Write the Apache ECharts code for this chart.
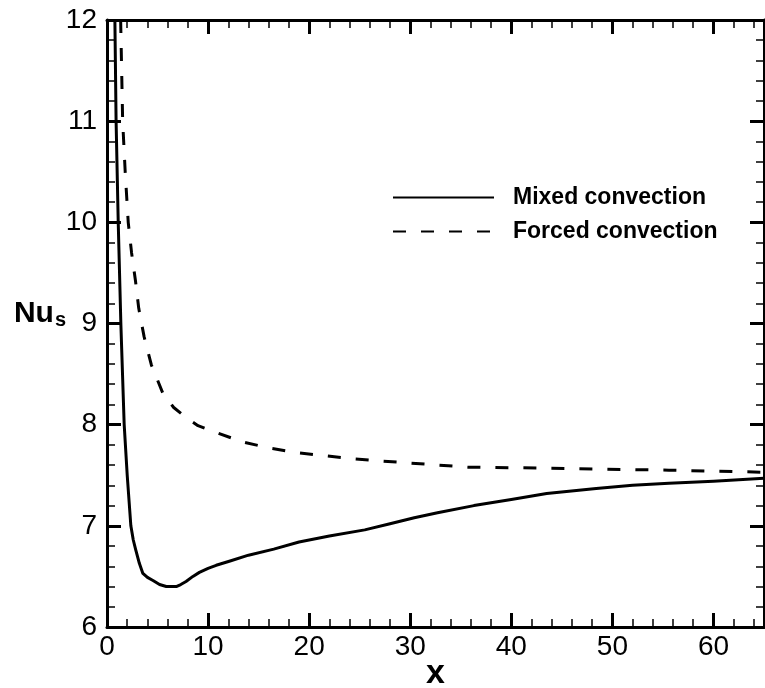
<!DOCTYPE html>
<html>
<head>
<meta charset="utf-8">
<script src="https://cdn.jsdelivr.net/npm/echarts@6/dist/echarts.min.js"></script>
<style>
  html, body { margin: 0; padding: 0; background: #fff; }
  #chart { width: 765px; height: 688px; }
</style>
</head>
<body>
<div id="chart"></div>
<script>
// Surface Nusselt number along the channel: mixed vs forced convection
const mixedX = [0.78, 0.9, 1.11, 1.37, 1.7, 2.0, 2.36, 2.6, 2.85, 3.2, 3.55, 4.0, 4.55, 5.2, 5.86, 6.85,
                7.3, 7.82, 8.5, 9.14, 10.0, 10.8, 12.1, 14.0, 16.5, 19.0, 22.0, 25.5, 28.0, 30.4, 32.7,
                36.3, 40.0, 43.5, 48.4, 52.0, 55.6, 60.0, 65.0];
const mixedY = [12.0, 11.0, 10.0, 9.0, 8.0, 7.5, 7.0, 6.86, 6.76, 6.63, 6.53, 6.49, 6.46, 6.42, 6.40, 6.40,
                6.42, 6.45, 6.50, 6.54, 6.58, 6.61, 6.65, 6.71, 6.77, 6.84, 6.90, 6.96, 7.02, 7.08, 7.13,
                7.20, 7.26, 7.32, 7.37, 7.40, 7.42, 7.44, 7.47];

const forcedX = [1.35, 1.55, 1.8, 2.1, 2.43, 2.82, 3.14, 3.67, 4.39, 5.53, 6.6, 7.82, 9.0, 10.6, 13.4,
                 16.0, 19.0, 24.6, 30.0, 35.7, 43.5, 55.6, 65.0];
const forcedY = [12.0, 11.0, 10.5, 10.0, 9.7, 9.42, 9.15, 8.87, 8.59, 8.31, 8.17, 8.07, 7.99, 7.93, 7.83,
                 7.77, 7.72, 7.66, 7.62, 7.58, 7.57, 7.55, 7.53];

const seriesNames = ['Mixed convection', 'Forced convection'];
const xTicks = { min: 0, max: 65, interval: 10 };
const yTicks = { min: 6, max: 12, interval: 1 };

const FONT = '"Liberation Sans", Arial, sans-serif';

function pairs(xs, ys) { return xs.map((x, i) => [x, ys[i]]); }

function axisCommon(showLabel, margin, showMax) {
  return {
    axisLine: { show: true, onZero: false, lineStyle: { color: '#000', width: 3 } },
    axisTick: { show: true, inside: true, length: 14, lineStyle: { color: '#000', width: 3 } },
    minorTick: { show: true, splitNumber: 5, length: 8, lineStyle: { color: '#000', width: 1.5 } },
    splitLine: { show: false },
    minorSplitLine: { show: false },
    axisLabel: { show: showLabel, color: '#000', fontFamily: FONT, fontSize: 28, margin: margin || 8,
                 showMaxLabel: !!showMax, showMinLabel: true }
  };
}

const chart = echarts.init(document.getElementById('chart'), null, { renderer: 'canvas' });

chart.setOption({
  backgroundColor: '#fff',
  animation: false,
  grid: { left: 107, right: 1, top: 20, bottom: 61, containLabel: false, outerBoundsMode: 'none' },
  legend: {
    orient: 'vertical',
    left: 387,
    top: 181,
    itemWidth: 101,
    itemHeight: 24,
    itemGap: 11,
    data: seriesNames,
    itemStyle: { opacity: 0 },
    textStyle: { fontFamily: FONT, fontSize: 23, fontWeight: 'bold', color: '#000', padding: [0, 0, 0, 14] }
  },
  xAxis: [
    Object.assign({
      type: 'value', position: 'bottom', min: xTicks.min, max: xTicks.max, interval: xTicks.interval,
      name: 'x', nameLocation: 'middle', nameGap: 30, nameMoveOverlap: false,
      nameTextStyle: { fontFamily: FONT, fontSize: 34, fontWeight: 'bold', color: '#000' }
    }, axisCommon(true, 6, false)),
    Object.assign({
      type: 'value', position: 'top', min: xTicks.min, max: xTicks.max, interval: xTicks.interval
    }, axisCommon(false))
  ],
  yAxis: [
    Object.assign({
      type: 'value', position: 'left', min: yTicks.min, max: yTicks.max, interval: yTicks.interval,
      name: '{n|Nu}{s|s}', nameLocation: 'middle', nameGap: 41, nameRotate: 0, nameMoveOverlap: false,
      nameTextStyle: {
        color: '#000', fontFamily: FONT, padding: [0, 0, 20, 0],
        rich: {
          n: { fontFamily: FONT, fontSize: 30, fontWeight: 'bold', color: '#000', lineHeight: 32 },
          s: { fontFamily: FONT, fontSize: 20, fontWeight: 'bold', color: '#000', lineHeight: 32, padding: [14, 0, 0, 1] }
        }
      }
    }, axisCommon(true, 10, true)),
    Object.assign({
      type: 'value', position: 'right', min: yTicks.min, max: yTicks.max, interval: yTicks.interval
    }, axisCommon(false))
  ],
  series: [
    {
      name: seriesNames[0], type: 'line', xAxisIndex: 0, yAxisIndex: 0,
      data: pairs(mixedX, mixedY), smooth: false,
      showSymbol: false, symbol: 'circle', clip: true,
      lineStyle: { color: '#000', width: 3, type: 'solid', join: 'round' },
      itemStyle: { color: '#000' }
    },
    {
      name: seriesNames[1], type: 'line', xAxisIndex: 0, yAxisIndex: 0,
      data: pairs(forcedX, forcedY), smooth: false,
      showSymbol: false, symbol: 'circle', clip: true,
      lineStyle: { color: '#000', width: 3, type: [13, 15], join: 'round' },
      itemStyle: { color: '#000' }
    }
  ]
});
</script>
</body>
</html>
